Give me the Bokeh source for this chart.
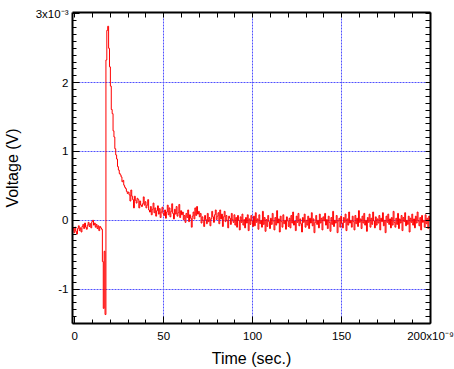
from bokeh.plotting import figure
from bokeh.models import LinearAxis, FixedTicker, Range1d
from bokeh.embed import file_html
from bokeh.resources import INLINE

# ---- data (time in ns, voltage in units of 1e-3 V) ----
t_start_ns = -1.5
t_step_ns = 0.5

v_pre = [-0.15, -0.12, -0.18, -0.10, -0.16, -0.20, -0.12, -0.08, -0.15, -0.11,
         -0.17, -0.09, -0.06, -0.12, -0.04, -0.10, -0.13, -0.07, -0.03, -0.09,
         -0.05, -0.11, -0.02, -0.00, -0.07, -0.04, -0.10, -0.06, -0.12, -0.08,
         -0.15, -0.09, -0.11, -0.13]

v_spike = [-0.60, -1.28, -0.45, -1.37, 2.33, 2.76, 2.82, 2.50, 2.23, 1.95,
           1.61, 1.55, 1.30, 1.21, 1.04, 0.95, 0.89, 0.78, 0.73, 0.68,
           0.66, 0.63, 0.56, 0.58, 0.51, 0.48, 0.46, 0.42, 0.39, 0.41,
           0.37, 0.28, 0.44, 0.35, 0.30, 0.18, 0.35, 0.29, 0.25, 0.32,
           0.30, 0.18, 0.28, 0.22, 0.20, 0.24, 0.34, 0.22, 0.27, 0.18]

v_tail = [
    0.22, 0.30, 0.15, 0.12, 0.20, 0.08, 0.16, 0.25, 0.11, 0.18, 0.06, 0.14, 0.21, 0.09, 0.17, 0.04, 0.12, 0.19, 0.10, 0.07,
    0.15, 0.03, 0.12, 0.22, 0.08, 0.18, 0.05, 0.13, 0.24, 0.10, 0.02, 0.16, 0.09, 0.20, 0.06, 0.11, 0.23, 0.04, 0.14, 0.08,
    0.12, 0.01, 0.07, -0.03, 0.10, 0.04, 0.15, -0.02, 0.08, 0.03, -0.10, 0.06, 0.12, 0.02, 0.18, 0.07, 0.20, 0.09, 0.13, 0.05,
    0.10, -0.04, 0.05, 0.00, -0.09, 0.07, 0.01, -0.05, 0.10, -0.02, 0.04, -0.08, 0.02, 0.13, 0.05, -0.03, 0.08, 0.15, 0.01, 0.06,
    0.11, -0.05, 0.15, 0.02, 0.09, -0.09, 0.05, 0.13, -0.02, 0.07, 0.00, -0.11, 0.06, 0.03, -0.06, 0.10, 0.01, -0.03, 0.08, -0.07,
    0.04, -0.10, 0.07, 0.00, -0.14, 0.05, -0.03, 0.09, -0.07, 0.01, -0.11, 0.04, -0.04, 0.08, -0.15, 0.02, -0.06, 0.07, -0.01, -0.09,
    0.06, -0.08, 0.11, -0.03, 0.02, -0.13, 0.08, -0.05, 0.00, -0.10, 0.13, -0.06, 0.04, -0.16, 0.01, -0.09, 0.07, -0.02, -0.12, 0.03,
    -0.06, 0.10, -0.01, -0.14, 0.04, -0.07, 0.14, -0.04, 0.02, -0.17, 0.06, -0.02, -0.10, 0.08, -0.05, 0.00, -0.13, 0.05, -0.01, -0.09,
    0.03, -0.11, 0.07, -0.04, 0.12, -0.07, -0.01, -0.15, 0.06, -0.03, 0.10, -0.08, 0.02, -0.05, -0.17, 0.04, -0.03, 0.09, -0.10, 0.00,
    -0.07, 0.06, -0.12, 0.03, -0.04, 0.11, -0.08, 0.02, -0.18, -0.03, 0.07, -0.06, 0.00, -0.11, 0.09, -0.04, 0.03, -0.14, 0.05, -0.01,
    0.10, -0.07, 0.01, -0.12, 0.06, -0.03, -0.16, 0.04, -0.06, 0.13, -0.09, 0.00, -0.04, 0.07, -0.18, -0.01, 0.03, -0.10, 0.06, -0.04,
    -0.11, 0.04, -0.03, 0.09, -0.15, 0.02, -0.07, 0.12, -0.04, 0.00, -0.10, 0.06, -0.02, -0.14, 0.07, -0.05, 0.03, -0.09, 0.14, -0.03,
    0.02, -0.12, 0.06, -0.04, 0.10, -0.07, 0.00, -0.16, 0.04, -0.03, 0.09, -0.10, 0.03, -0.06, 0.12, -0.01, -0.11, 0.05, -0.07, 0.02,
    -0.04, 0.07, -0.14, 0.03, -0.02, 0.11, -0.08, 0.00, -0.18, 0.06, -0.03, 0.09, -0.06, 0.02, -0.11, 0.04, -0.07, 0.13, -0.03, -0.10,
    0.03, -0.06, 0.10, -0.12, 0.02, -0.04, 0.07, -0.15, 0.04, -0.02, 0.11, -0.08, 0.00, -0.06, 0.06, -0.17, 0.03, -0.03, 0.09, -0.07,
    0.02, -0.11, 0.06, -0.04, 0.12, -0.01, -0.08, 0.04, -0.14, 0.07, -0.03, 0.00, -0.10, 0.08, -0.05, 0.03, -0.12, 0.06, -0.01, 0.04,
]

x_major = [0, 50, 100, 150, 200]
x_labels = {0: "0", 50: "50", 100: "100", 150: "150", 200: "200x10\u207b\u2079"}
y_major = [-1, 0, 1, 2, 3]
y_labels = {-1: "-1", 0: "0", 1: "1", 2: "2", 3: "3x10\u207b\u00b3"}
x_grid = [50, 100, 150]
y_grid = [-1, 0, 1, 2]
x_title = "Time (sec.)"
y_title = "Voltage (V)"

volts = v_pre + v_spike + v_tail
times = [t_start_ns + t_step_ns * i for i in range(len(volts))]

FONT = "Liberation Sans"

p = figure(width=454, height=369,
           x_range=Range1d(-1.3, 200), y_range=Range1d(-1.5, 3.02),
           output_backend="svg", toolbar_location=None,
           min_border_left=72, min_border_right=24,
           min_border_top=12, min_border_bottom=42)
p.outline_line_color = None
p.background_fill_color = "white"
p.border_fill_color = "white"

x_minor = [m for m in range(0, 201, 10) if m not in x_major]
y_minor = [round(-1.5 + 0.1 * k, 2) for k in range(46)]
y_minor = [m for m in y_minor if all(abs(m - v) > 1e-6 for v in y_major)]


def style_common(ax):
    ax.axis_line_color = "black"
    ax.axis_line_width = 2
    ax.major_tick_in = 7
    ax.major_tick_out = 0
    ax.minor_tick_in = 4
    ax.minor_tick_out = 0
    ax.major_tick_line_color = "black"
    ax.minor_tick_line_color = "black"
    ax.major_tick_line_width = 1
    ax.minor_tick_line_width = 1


# bottom axis
xa = p.xaxis[0]
xa.ticker = FixedTicker(ticks=x_major, minor_ticks=x_minor)
style_common(xa)
xa.major_label_overrides = x_labels
xa.major_label_text_font = FONT
xa.major_label_text_font_size = "11.5px"
xa.major_label_text_color = "black"
xa.major_label_standoff = 6
xa.axis_label = x_title
xa.axis_label_text_font = FONT
xa.axis_label_text_font_size = "16px"
xa.axis_label_text_font_style = "normal"
xa.axis_label_text_color = "black"
xa.axis_label_standoff = 5

# left axis
ya = p.yaxis[0]
ya.ticker = FixedTicker(ticks=y_major, minor_ticks=y_minor)
style_common(ya)
ya.major_label_overrides = y_labels
ya.major_label_text_font = FONT
ya.major_label_text_font_size = "11.5px"
ya.major_label_text_color = "black"
ya.major_label_standoff = 4
ya.axis_label = y_title
ya.axis_label_text_font = FONT
ya.axis_label_text_font_size = "16px"
ya.axis_label_text_font_style = "normal"
ya.axis_label_text_color = "black"
ya.axis_label_standoff = 12

# mirrored tick-only axes (no labels): all ticks as short marks
top_ax = LinearAxis(ticker=FixedTicker(ticks=[], minor_ticks=sorted(x_minor + x_major)))
right_ax = LinearAxis(ticker=FixedTicker(ticks=[], minor_ticks=sorted(y_minor + y_major)))
for ax in (top_ax, right_ax):
    style_common(ax)
    ax.minor_tick_in = 5
    ax.major_label_standoff = 0
p.add_layout(top_ax, "above")
p.add_layout(right_ax, "right")

p.xgrid.ticker = FixedTicker(ticks=x_grid)
p.ygrid.ticker = FixedTicker(ticks=y_grid)
for g in (p.xgrid, p.ygrid):
    g.grid_line_color = "#5050ff"
    g.grid_line_dash = "2 1"
    g.grid_line_width = 1

p.step(x=times, y=volts, mode="after", line_color="#ff0000", line_width=1)

open("out.html", "w").write(file_html(p, INLINE))
